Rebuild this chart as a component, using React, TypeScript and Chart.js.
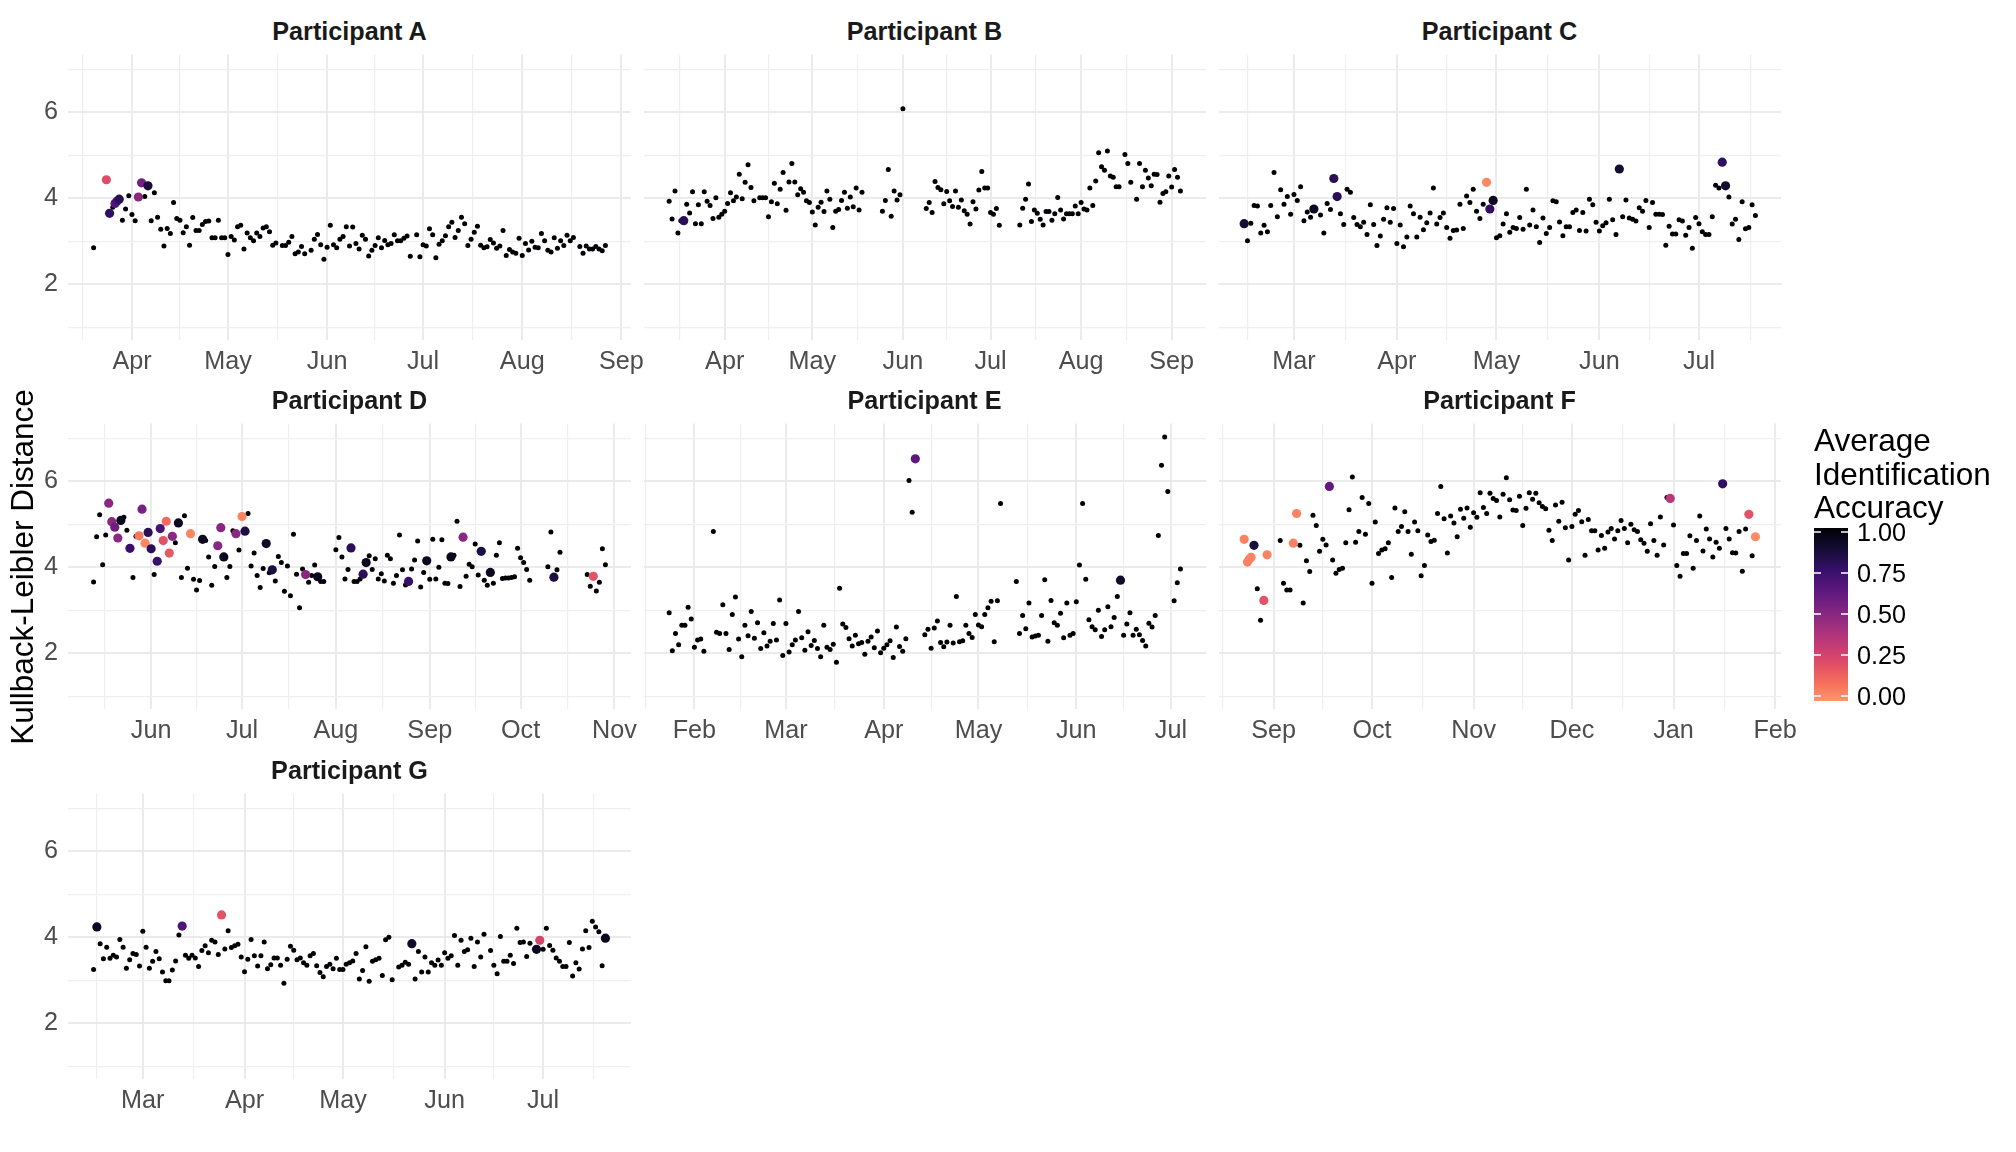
import React, { useEffect, useRef } from "react";
import { Chart, registerables } from "chart.js";

Chart.register(...registerables);

const DAY = 86400000;
const FONT = '"Liberation Sans", Arial, Helvetica, sans-serif';
const MONTHS = ["Jan", "Feb", "Mar", "Apr", "May", "Jun", "Jul", "Aug", "Sep", "Oct", "Nov", "Dec"];

// ---------- DATA: [day offset from reference date, KL distance] ; colored: [day, KL, accuracy]
const A_REF = "2021-04-01";
const A_POINTS: number[][] = [[-12,2.85],[-6,3.79],[-3,3.49],[-2,3.75],[-1,4.06],[0,3.62],[1,3.48],[4,4.04],[6,3.48],[7,4.13],[8,3.56],[9,3.28],[10,2.89],[11,3.30],[12,3.18],[13,3.90],[14,3.53],[15,3.49],[16,3.20],[17,3.34],[18,2.91],[19,3.55],[20,3.25],[21,3.25],[22,3.39],[23,3.46],[24,3.47],[25,3.08],[26,3.08],[27,3.49],[28,3.08],[29,3.08],[30,2.69],[31,3.11],[32,3.03],[33,3.34],[34,3.37],[35,2.82],[36,3.19],[37,3.08],[38,3.01],[39,3.19],[40,3.11],[41,3.31],[42,3.34],[43,3.22],[44,2.91],[45,2.96],[47,2.90],[48,2.90],[49,2.98],[50,3.11],[51,2.71],[52,2.75],[53,2.88],[54,2.71],[56,2.79],[57,3.05],[58,3.16],[59,2.92],[60,2.58],[61,2.86],[62,3.37],[63,2.92],[64,2.85],[65,3.05],[66,3.11],[67,3.34],[68,2.89],[69,3.33],[70,2.95],[71,2.82],[72,3.14],[73,3.05],[74,2.66],[75,2.79],[76,2.90],[77,3.08],[78,2.85],[79,3.02],[80,2.92],[81,2.95],[82,3.15],[83,3.01],[84,3.01],[85,3.07],[86,3.12],[87,2.65],[89,3.15],[90,2.64],[91,2.92],[92,2.89],[93,3.29],[94,3.15],[95,2.62],[96,2.93],[97,3.01],[98,3.13],[99,3.34],[100,3.44],[101,3.09],[102,3.25],[103,3.56],[104,3.41],[105,2.90],[106,3.05],[107,3.21],[108,3.35],[109,2.91],[110,2.85],[111,2.87],[112,3.04],[113,2.96],[114,2.84],[115,2.89],[116,3.25],[117,2.67],[118,2.81],[119,2.75],[120,2.72],[121,3.07],[122,2.67],[123,2.95],[124,2.80],[125,3.00],[126,2.86],[127,2.85],[128,3.18],[129,3.01],[130,2.79],[131,2.75],[132,3.08],[133,2.84],[134,3.01],[135,2.90],[136,3.14],[137,3.01],[138,3.09],[140,2.88],[141,2.72],[142,2.89],[143,2.82],[144,2.82],[145,2.88],[146,2.82],[147,2.78],[148,2.90]];
const A_COLORED: number[][] = [[-8,4.43,0.22],[-7,3.65,0.78],[-5.3,3.88,0.66],[-4.7,3.93,0.7],[-4,3.98,0.8],[2,4.03,0.5],[3,4.36,0.56],[5,4.29,0.86]];

const B_REF = "2021-04-01";
const B_POINTS: number[][] = [[-19,3.93],[-18,3.52],[-17,4.17],[-16,3.19],[-15,3.48],[-13,3.86],[-12,3.66],[-11,4.15],[-10,3.41],[-9,3.85],[-8,3.41],[-7,4.15],[-6,3.93],[-5,3.83],[-4,3.53],[-3,4.01],[-2,3.56],[-1,3.63],[0,3.70],[1,3.88],[2,4.13],[3,3.94],[4,4.03],[5,4.56],[6,3.99],[7,4.37],[8,4.78],[9,4.25],[10,3.94],[12,4.01],[13,4.01],[14,4.01],[15,3.57],[16,3.92],[17,4.35],[18,3.87],[19,4.21],[20,4.60],[21,3.72],[22,4.38],[23,4.81],[24,4.38],[25,4.08],[26,4.22],[27,4.14],[28,3.94],[29,3.90],[30,3.68],[31,3.38],[32,3.79],[33,3.91],[34,3.69],[35,4.17],[36,3.98],[37,3.32],[38,3.70],[39,3.74],[40,3.95],[41,4.14],[42,3.77],[43,4.03],[44,3.80],[45,4.24],[46,3.73],[47,4.14],[54,3.70],[55,3.95],[56,4.67],[57,3.58],[58,4.17],[59,3.96],[60,4.08],[61,6.08],[69,3.76],[70,3.90],[71,3.67],[72,4.39],[73,4.25],[74,4.20],[75,3.87],[76,4.16],[77,3.94],[78,3.81],[79,4.17],[80,3.79],[81,3.96],[82,3.71],[83,3.63],[84,3.40],[85,3.92],[86,3.75],[87,4.19],[88,4.62],[89,4.24],[90,4.24],[91,3.67],[92,3.63],[93,3.76],[94,3.37],[101,3.38],[102,3.77],[103,3.98],[104,4.33],[105,3.46],[106,3.73],[107,3.65],[108,3.51],[109,3.38],[110,3.69],[111,3.69],[112,3.49],[113,3.64],[114,4.02],[115,3.73],[116,3.52],[117,3.64],[118,3.64],[119,3.64],[120,3.82],[121,3.64],[122,3.90],[123,3.75],[124,3.73],[125,4.24],[126,3.83],[127,4.40],[128,5.06],[129,4.73],[130,4.65],[131,5.10],[132,4.52],[133,4.49],[134,4.27],[135,4.27],[137,5.02],[138,4.81],[139,4.37],[141,3.98],[142,4.81],[143,4.27],[144,4.65],[145,4.47],[146,4.29],[147,4.56],[148,4.55],[149,3.91],[150,4.11],[151,4.15],[152,4.52],[153,4.26],[154,4.67],[155,4.49],[156,4.17]];
const B_COLORED: number[][] = [[-14,3.48,0.8]];

const C_REF = "2021-03-01";
const C_POINTS: number[][] = [[-14,3.01],[-13,3.42],[-12,3.83],[-11,3.82],[-10,3.19],[-9,3.37],[-8,3.22],[-7,3.83],[-6,4.60],[-5,3.57],[-4,4.20],[-3,3.86],[-2,4.04],[-1,3.63],[0,4.09],[1,3.95],[2,4.27],[3,3.48],[4,3.68],[5,3.56],[8,3.61],[9,3.19],[10,3.88],[11,3.74],[14,3.64],[15,3.39],[16,4.21],[17,4.14],[18,3.55],[19,3.39],[20,3.34],[21,3.44],[22,3.16],[23,3.85],[24,3.39],[25,2.90],[26,3.12],[27,3.51],[28,3.78],[29,3.44],[30,3.76],[31,2.95],[32,3.38],[33,2.87],[34,3.10],[35,3.82],[36,3.64],[37,3.10],[38,3.56],[39,3.27],[40,3.43],[41,3.66],[42,4.24],[43,3.40],[44,3.55],[45,3.66],[46,3.32],[47,3.07],[48,3.25],[49,3.26],[50,3.86],[51,3.30],[52,4.05],[53,3.90],[54,4.21],[55,3.70],[56,3.53],[57,3.86],[61,3.08],[62,3.13],[63,3.40],[64,3.64],[65,3.21],[66,3.32],[67,3.30],[68,3.55],[69,3.28],[70,4.21],[71,3.38],[72,3.73],[73,3.34],[74,2.97],[75,3.54],[76,3.18],[77,3.32],[78,3.94],[79,3.92],[80,3.45],[81,3.13],[82,3.34],[83,3.34],[84,3.67],[85,3.73],[86,3.25],[87,3.67],[88,3.24],[89,3.98],[90,3.85],[91,3.44],[92,3.24],[93,3.36],[94,3.43],[95,3.98],[96,3.50],[97,3.16],[99,3.57],[100,3.96],[101,3.54],[102,3.51],[103,3.47],[104,3.78],[105,3.70],[106,3.95],[107,3.32],[108,3.90],[109,3.63],[110,3.63],[111,3.62],[112,2.91],[113,3.35],[114,3.17],[115,3.17],[116,3.50],[117,3.47],[118,3.14],[119,3.32],[120,2.84],[121,3.55],[122,3.41],[123,3.22],[124,3.16],[125,3.16],[126,3.57],[127,4.30],[128,4.24],[131,4.03],[132,3.40],[133,3.51],[134,3.04],[135,3.92],[136,3.29],[137,3.32],[138,3.85],[139,3.60]];
const C_COLORED: number[][] = [[-15,3.41,0.87],[6,3.75,0.92],[12,4.46,0.8],[13,4.04,0.8],[58,4.37,0.04],[59,3.75,0.78],[60,3.95,0.93],[98,4.68,0.88],[129,4.84,0.78],[130,4.29,0.88]];

const D_REF = "2021-06-01";
const D_POINTS: number[][] = [[-19,3.66],[-18,4.71],[-17,5.22],[-16,4.06],[-15,4.75],[-9,5.16],[-8,4.86],[-6,3.76],[-5,4.72],[1,3.83],[8,4.57],[10,3.76],[11,5.20],[12,3.98],[14,3.72],[15,3.47],[16,3.69],[18,4.62],[19,4.24],[20,3.58],[21,4.02],[25,3.76],[26,4.02],[27,4.85],[29,4.40],[32,5.25],[33,4.03],[34,4.33],[35,3.81],[36,3.53],[37,3.97],[39,3.87],[41,3.68],[42,4.25],[43,4.11],[44,3.44],[45,4.03],[46,3.34],[47,4.77],[48,3.84],[49,3.06],[50,3.96],[52,3.65],[53,3.81],[54,4.05],[56,3.67],[57,3.67],[61,4.41],[62,4.69],[63,4.24],[64,3.73],[65,3.95],[67,3.67],[68,3.67],[69,3.73],[72,4.27],[73,3.95],[74,4.20],[75,3.73],[76,3.85],[77,3.68],[78,4.28],[79,4.20],[80,3.63],[81,3.81],[82,4.75],[83,3.94],[84,3.59],[86,3.96],[87,4.17],[88,4.61],[89,3.54],[90,3.88],[92,3.72],[93,4.65],[94,3.73],[95,4.00],[96,4.64],[97,3.63],[98,3.62],[100,4.28],[101,5.07],[102,3.55],[104,3.79],[105,4.07],[106,4.01],[107,4.54],[108,3.82],[110,3.70],[111,3.58],[113,3.63],[114,4.28],[115,4.57],[116,3.74],[117,3.75],[118,3.75],[119,3.76],[120,3.78],[121,4.44],[122,4.22],[123,4.11],[124,3.95],[125,3.70],[131,4.01],[132,4.82],[134,3.94],[135,4.35],[144,3.83],[145,3.56],[147,3.45],[148,3.65],[149,4.43],[150,4.06]];
const D_COLORED: number[][] = [[-14,5.49,0.5],[-13,5.06,0.5],[-12,4.93,0.58],[-11,4.68,0.5],[-10,5.09,0.93],[-7,4.44,0.75],[-4,4.73,0.08],[-3,5.35,0.55],[-2,4.56,0.04],[-1,4.81,0.8],[0,4.43,0.8],[2,4.14,0.75],[3,4.90,0.7],[4,4.62,0.2],[5,5.07,0.12],[6,4.33,0.18],[7,4.72,0.5],[9,5.03,0.93],[13,4.78,0.04],[17,4.65,0.93],[22,4.50,0.5],[23,4.92,0.5],[24,4.24,0.93],[28,4.78,0.5],[30,5.18,0.05],[31,4.84,0.85],[38,4.55,0.9],[40,3.94,0.85],[51,3.83,0.5],[55,3.78,0.93],[66,4.45,0.8],[70,3.84,0.8],[71,4.11,0.93],[85,3.67,0.75],[91,4.15,0.93],[99,4.24,0.93],[103,4.70,0.5],[109,4.37,0.85],[112,3.88,0.93],[133,3.77,0.85],[146,3.79,0.2]];

const E_REF = "2020-04-01";
const E_POINTS: number[][] = [[-68,2.94],[-67,2.06],[-66,2.46],[-65,2.20],[-64,2.65],[-63,2.65],[-62,3.07],[-61,2.80],[-60,2.14],[-59,2.31],[-58,2.33],[-57,2.05],[-54,4.83],[-53,2.49],[-52,2.46],[-51,3.13],[-50,2.46],[-49,2.09],[-48,2.90],[-47,3.31],[-46,2.33],[-45,1.92],[-44,2.65],[-43,2.41],[-42,2.97],[-41,2.35],[-40,2.71],[-39,2.11],[-38,2.48],[-37,2.17],[-36,2.28],[-35,2.69],[-34,2.31],[-33,3.24],[-32,1.95],[-31,2.69],[-30,2.03],[-29,2.20],[-28,2.31],[-27,2.97],[-26,2.36],[-25,2.07],[-24,2.50],[-23,2.18],[-22,2.30],[-21,2.11],[-20,1.92],[-19,2.65],[-18,2.14],[-17,2.09],[-16,2.21],[-15,1.79],[-14,3.51],[-13,2.68],[-12,2.60],[-11,2.34],[-10,2.17],[-9,2.42],[-8,2.22],[-7,2.25],[-6,1.98],[-5,2.28],[-4,2.38],[-3,2.13],[-2,2.52],[-1,2.01],[0,2.12],[1,2.20],[2,2.29],[3,1.90],[4,2.61],[5,2.16],[6,2.05],[7,2.34],[8,6.02],[9,5.28],[13,2.43],[14,2.56],[15,2.12],[16,2.59],[17,2.75],[18,2.25],[19,2.15],[20,2.26],[21,2.65],[22,2.24],[23,3.32],[24,2.27],[25,2.29],[26,2.65],[27,2.46],[28,2.37],[29,2.90],[30,2.66],[31,2.62],[32,2.90],[33,3.06],[34,3.21],[35,2.27],[36,3.22],[37,5.48],[42,3.67],[43,2.46],[44,2.88],[45,2.57],[46,3.17],[47,2.38],[48,2.40],[49,2.42],[50,2.88],[51,3.71],[52,2.28],[53,3.23],[54,2.71],[55,2.65],[56,2.93],[57,2.36],[58,3.17],[59,2.42],[60,2.46],[61,3.20],[62,4.05],[63,5.48],[64,3.72],[65,2.78],[66,2.62],[67,2.55],[68,3.00],[69,2.39],[70,2.55],[71,3.08],[72,2.62],[73,2.83],[74,3.32],[76,2.42],[77,2.68],[78,2.94],[79,2.42],[80,2.56],[81,2.43],[82,2.30],[83,2.17],[84,2.70],[85,2.61],[86,2.88],[87,4.74],[88,6.37],[89,7.03],[90,5.76],[92,3.22],[93,3.64],[94,3.96]];
const E_COLORED: number[][] = [[10,6.52,0.64],[75,3.70,0.9]];

const F_REF = "2020-09-01";
const F_POINTS: number[][] = [[-5,3.50],[-4,2.77],[2,4.62],[3,3.63],[4,3.47],[5,3.47],[8,4.51],[9,3.17],[10,4.15],[11,3.90],[12,5.21],[13,4.97],[14,4.37],[15,4.65],[16,4.52],[18,4.17],[19,3.86],[20,3.95],[21,3.98],[22,4.57],[23,5.34],[24,6.10],[25,4.58],[26,4.83],[27,5.62],[28,4.77],[29,5.48],[30,3.63],[31,5.05],[32,4.32],[33,4.40],[34,4.43],[35,4.57],[36,3.76],[37,5.38],[38,4.83],[39,4.95],[40,5.29],[41,4.83],[42,4.30],[43,5.05],[44,4.85],[45,3.80],[46,4.04],[47,4.75],[48,4.60],[49,4.63],[50,5.25],[51,5.88],[52,5.13],[53,4.33],[54,5.19],[55,5.03],[56,4.71],[57,5.35],[58,5.14],[59,5.38],[60,4.93],[61,5.27],[62,5.16],[63,5.73],[64,5.39],[65,5.25],[66,5.72],[67,5.60],[68,5.55],[69,5.17],[70,5.70],[71,6.08],[72,5.57],[73,5.33],[74,5.32],[75,5.65],[76,4.97],[77,5.37],[78,5.73],[79,5.58],[80,5.72],[81,5.50],[82,5.41],[83,5.36],[84,4.86],[85,4.62],[86,5.45],[87,5.07],[88,5.51],[89,4.92],[90,4.17],[91,4.95],[92,5.23],[93,5.32],[94,5.06],[95,4.28],[96,5.11],[97,4.85],[98,4.85],[99,4.40],[100,4.74],[101,4.44],[102,4.82],[103,4.90],[104,4.66],[105,4.85],[106,5.09],[107,4.90],[108,4.57],[109,5.00],[110,4.87],[111,4.83],[112,4.64],[113,4.56],[114,4.37],[115,5.01],[116,4.62],[117,4.28],[118,5.17],[119,4.52],[120,5.62],[122,4.98],[123,4.04],[124,3.79],[125,4.32],[126,4.32],[127,4.73],[128,3.98],[129,4.62],[130,5.19],[131,4.38],[132,4.89],[133,4.66],[134,4.24],[135,4.58],[136,4.44],[138,4.90],[139,4.66],[140,4.34],[141,4.33],[142,4.83],[143,3.91],[144,4.89],[146,4.27]];
const F_COLORED: number[][] = [[-9,4.65,0.05],[-8,4.12,0.05],[-7.4,4.19,0.05],[-6.9,4.23,0.05],[-6,4.51,0.85],[-3,3.23,0.2],[-2,4.29,0.05],[6,4.56,0.05],[7,5.25,0.05],[17,5.88,0.62],[121,5.60,0.35],[137,5.94,0.78],[145,5.23,0.2],[147,4.71,0.03]];

const G_REF = "2021-03-01";
const G_POINTS: number[][] = [[-15,3.25],[-13,3.85],[-12,3.50],[-11,3.77],[-10,3.51],[-9,3.58],[-8,3.54],[-7,3.95],[-6,3.77],[-5,3.28],[-4,3.48],[-3,3.62],[-2,3.60],[-1,3.33],[0,4.14],[1,3.77],[2,3.28],[3,3.44],[4,3.67],[5,3.50],[6,3.19],[7,2.99],[8,2.99],[9,3.24],[10,3.45],[11,4.05],[13,3.58],[14,3.51],[15,3.58],[16,3.52],[17,3.32],[18,3.69],[19,3.80],[20,3.64],[21,3.93],[22,3.89],[23,3.60],[25,3.73],[26,4.15],[27,3.76],[28,3.80],[29,3.84],[30,3.54],[31,3.20],[32,3.49],[33,3.95],[34,3.57],[35,3.33],[36,3.57],[37,3.89],[38,3.27],[39,3.36],[40,3.52],[41,3.52],[42,3.35],[43,2.93],[44,3.49],[45,3.79],[46,3.70],[47,3.48],[48,3.52],[49,3.41],[50,3.35],[51,3.57],[52,3.62],[53,3.34],[54,3.18],[55,3.08],[56,3.32],[57,3.37],[58,3.27],[59,3.51],[60,3.25],[61,3.25],[62,3.37],[63,3.41],[64,3.45],[65,3.62],[66,3.03],[67,3.23],[68,3.78],[69,2.98],[70,3.44],[71,3.48],[72,3.51],[73,3.11],[74,3.94],[75,4.00],[76,3.01],[78,3.31],[79,3.35],[80,3.42],[81,3.37],[83,3.03],[84,3.67],[85,3.19],[86,3.54],[87,3.19],[88,3.41],[89,3.35],[90,3.47],[91,3.35],[92,3.64],[93,3.51],[94,3.57],[95,4.04],[96,3.35],[97,3.93],[98,3.67],[99,3.71],[100,3.98],[101,3.32],[102,3.89],[103,3.54],[104,4.07],[106,3.69],[107,3.35],[108,3.15],[109,4.02],[110,3.44],[111,3.44],[112,3.58],[113,3.39],[114,4.21],[115,3.88],[116,3.89],[117,3.55],[118,3.86],[122,3.72],[123,4.21],[124,3.81],[125,3.70],[126,3.52],[127,3.44],[128,3.32],[129,3.32],[130,3.88],[131,3.10],[132,3.41],[133,3.26],[134,3.73],[135,4.15],[136,3.76],[137,4.37],[138,4.24],[139,4.13],[140,3.34]];
const G_COLORED: number[][] = [[-14,4.24,0.92],[12,4.26,0.68],[24,4.52,0.2],[82,3.85,0.9],[120,3.72,0.93],[121,3.93,0.27],[141,3.98,0.93]];

const PARTICIPANTS = ["A", "B", "C", "D", "E", "F", "G"];
const REFS = [A_REF, B_REF, C_REF, D_REF, E_REF, F_REF, G_REF];
const POINTS = [A_POINTS, B_POINTS, C_POINTS, D_POINTS, E_POINTS, F_POINTS, G_POINTS];
const COLORED = [A_COLORED, B_COLORED, C_COLORED, D_COLORED, E_COLORED, F_COLORED, G_COLORED];

const Y_MIN = 0.705;
const Y_MAX = 7.34;
const Y_TICKS = [1, 2, 3, 4, 5, 6, 7];
const LEGEND_TICKS = [1, 0.75, 0.5, 0.25, 0];

// ---------- LAYOUT / STYLE
const COL_X = [68, 643, 1218];
const ROW_Y = [50, 419, 789];
const PW = 563;
const PH = 290;
const XAXIS_H = 50;
const PAD_R = 34;

const MAGMA = ["#000004", "#140E36", "#3B0F70", "#641A80", "#8C2981", "#B73779", "#DE4968", "#F7705C", "#FE9F6D"];

function hexToRgb(h: string) {
  return [parseInt(h.slice(1, 3), 16), parseInt(h.slice(3, 5), 16), parseInt(h.slice(5, 7), 16)];
}
function accColor(a: number) {
  const t = Math.max(0, Math.min(1, 1 - a)) * 0.78 * 10;
  const i = Math.min(Math.floor(t), 7);
  const f = t - i;
  const c0 = hexToRgb(MAGMA[i]);
  const c1 = hexToRgb(MAGMA[i + 1]);
  const c = c0.map((v, k) => Math.round(v + (c1[k] - v) * f));
  return `rgb(${c[0]},${c[1]},${c[2]})`;
}

function toDay(iso: string) {
  return Date.UTC(+iso.slice(0, 4), +iso.slice(5, 7) - 1, +iso.slice(8, 10)) / DAY;
}

function dateTicks(xmin: number, xmax: number) {
  const s = new Date(xmin * DAY);
  const y0 = s.getUTCFullYear();
  const m0 = s.getUTCMonth();
  const majors: number[] = [];
  for (let k = -1; k < 40; k++) {
    const d = Date.UTC(y0, m0 + k, 1) / DAY;
    majors.push(d);
    if (d > xmax) break;
  }
  const ticks: { v: number; major: boolean }[] = [];
  for (let i = 0; i < majors.length; i++) {
    if (majors[i] >= xmin && majors[i] <= xmax) ticks.push({ v: majors[i], major: true });
    if (i + 1 < majors.length) {
      const mid = (majors[i] + majors[i + 1]) / 2;
      if (mid >= xmin && mid <= xmax) ticks.push({ v: mid, major: false });
    }
  }
  return ticks;
}

function Panel({ idx, col, row }: { idx: number; col: number; row: number }) {
  const ref = useRef<HTMLCanvasElement>(null);
  const left = col === 0 ? 0 : COL_X[col] - 4;
  const padL = COL_X[col] - left;
  const W = padL + PW + PAD_R;
  const H = PH + XAXIS_H;

  useEffect(() => {
    const r = toDay(REFS[idx]);
    const black = POINTS[idx].map((p) => ({ x: r + p[0], y: p[1] }));
    const colored = COLORED[idx].map((p) => ({ x: r + p[0], y: p[1] }));
    const colColors = COLORED[idx].map((p) => accColor(p[2]));
    const xs = [...black, ...colored].map((p) => p.x);
    const lo = Math.min(...xs);
    const hi = Math.max(...xs);
    const span = hi - lo;
    const xmin = lo - 0.05 * span;
    const xmax = hi + 0.05 * span;
    const ticks = dateTicks(xmin, xmax);
    const majorSet = new Set(ticks.filter((t) => t.major).map((t) => t.v));
    const tickFont = { family: FONT, size: 25.2 };

    const chart = new Chart(ref.current!, {
      type: "scatter",
      data: {
        datasets: [
          {
            data: colored,
            pointRadius: 4.6,
            pointHoverRadius: 4.6,
            pointBackgroundColor: colColors,
            pointBorderWidth: 0,
            borderWidth: 0,
          },
          {
            data: black,
            pointRadius: 2.5,
            pointHoverRadius: 2.5,
            pointBackgroundColor: "#000004",
            pointBorderWidth: 0,
            borderWidth: 0,
          },
        ],
      },
      options: {
        animation: false,
        responsive: false,
        events: [],
        layout: { padding: { left: 0, right: PAD_R, top: 0, bottom: 0 } },
        plugins: { legend: { display: false }, tooltip: { enabled: false }, title: { display: false } },
        scales: {
          x: {
            type: "linear",
            min: xmin,
            max: xmax,
            afterBuildTicks: (s: any) => {
              s.ticks = ticks.map((t) => ({ value: t.v }));
            },
            afterFit: (s: any) => {
              s.height = XAXIS_H;
              s.paddingLeft = 0;
              s.paddingRight = 0;
            },
            ticks: {
              autoSkip: false,
              maxRotation: 0,
              minRotation: 0,
              padding: 7,
              color: "#4D4D4D",
              font: tickFont,
              callback: (v: any) => (majorSet.has(v) ? MONTHS[new Date(v * DAY).getUTCMonth()] : ""),
            },
            grid: {
              drawTicks: false,
              color: (c: any) => (c.tick && majorSet.has(c.tick.value) ? "#EBEBEB" : "#EFEFEF"),
              lineWidth: (c: any) => (c.tick && majorSet.has(c.tick.value) ? 2 : 1.2),
            },
            border: { display: false },
          },
          y: {
            type: "linear",
            min: Y_MIN,
            max: Y_MAX,
            afterBuildTicks: (s: any) => {
              s.ticks = Y_TICKS.map((v) => ({ value: v }));
            },
            afterFit: (s: any) => {
              s.width = padL;
              s.paddingTop = 0;
              s.paddingBottom = 0;
            },
            ticks: {
              display: col === 0,
              autoSkip: false,
              padding: 10,
              color: "#4D4D4D",
              font: tickFont,
              callback: (v: any) => (v % 2 === 0 ? String(v) : ""),
            },
            grid: {
              drawTicks: false,
              color: (c: any) => (c.tick && c.tick.value % 2 === 0 ? "#EBEBEB" : "#EFEFEF"),
              lineWidth: (c: any) => (c.tick && c.tick.value % 2 === 0 ? 2 : 1.2),
            },
            border: { display: false },
          },
        },
      } as any,
    });
    return () => chart.destroy();
  }, [idx, col, row]);

  return (
    <>
      <div
        style={{
          position: "absolute",
          left: COL_X[col],
          top: ROW_Y[row] - 34,
          width: PW,
          height: 30,
          lineHeight: "30px",
          textAlign: "center",
          fontFamily: FONT,
          fontWeight: "bold",
          fontSize: 25.2,
          color: "#1A1A1A",
          whiteSpace: "nowrap",
        }}
      >
        {"Participant " + PARTICIPANTS[idx]}
      </div>
      <canvas
        ref={ref}
        width={W}
        height={H}
        style={{ position: "absolute", left, top: ROW_Y[row], width: W, height: H }}
      />
    </>
  );
}

function Legend() {
  const top = 528;
  const h = 173;
  const stops = Array.from({ length: 21 }, (_, k) => `${accColor(1 - k / 20)} ${(k / 20) * 100}%`).join(", ");
  const tickY = (v: number) => top + 4 + (1 - v) * 164;
  return (
    <>
      <div
        style={{
          position: "absolute",
          left: 1814,
          top: 424,
          fontFamily: FONT,
          fontSize: 31.5,
          lineHeight: "33.5px",
          color: "#000",
          whiteSpace: "nowrap",
        }}
      >
        Average
        <br />
        Identification
        <br />
        Accuracy
      </div>
      <div
        style={{
          position: "absolute",
          left: 1814,
          top,
          width: 34,
          height: h,
          background: `linear-gradient(to bottom, ${stops})`,
        }}
      />
      {LEGEND_TICKS.map((v) => (
        <React.Fragment key={v}>
          <div style={{ position: "absolute", left: 1814, top: tickY(v) - 0.75, width: 7, height: 1.5, background: "rgba(255,255,255,0.75)" }} />
          <div style={{ position: "absolute", left: 1841, top: tickY(v) - 0.75, width: 7, height: 1.5, background: "rgba(255,255,255,0.75)" }} />
          <div
            style={{
              position: "absolute",
              left: 1857,
              top: tickY(v) - 15,
              height: 30,
              lineHeight: "30px",
              fontFamily: FONT,
              fontSize: 25.2,
              color: "#000",
              whiteSpace: "nowrap",
            }}
          >
            {v.toFixed(2)}
          </div>
        </React.Fragment>
      ))}
    </>
  );
}

export default function App() {
  const layout = [
    [0, 0], [1, 0], [2, 0],
    [0, 1], [1, 1], [2, 1],
    [0, 2],
  ];
  return (
    <div style={{ position: "absolute", left: 0, top: 0, width: 2016, height: 1152, background: "#fff", overflow: "hidden" }}>
      {layout.map(([c, r], i) => (
        <Panel key={i} idx={i} col={c} row={r} />
      ))}
      <div
        style={{
          position: "absolute",
          left: 22 - 300,
          top: 567 - 18,
          width: 600,
          height: 36,
          lineHeight: "36px",
          textAlign: "center",
          transform: "rotate(-90deg)",
          fontFamily: FONT,
          fontSize: 31.5,
          color: "#000",
          whiteSpace: "nowrap",
        }}
      >
        Kullback-Leibler Distance
      </div>
      <Legend />
    </div>
  );
}
